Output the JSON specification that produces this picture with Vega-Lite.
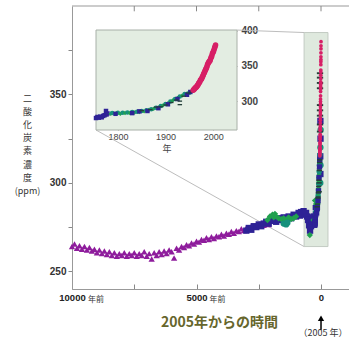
{
  "$schema": "https://vega.github.io/schema/vega-lite/v6.json",
  "width": 277,
  "height": 283,
  "autosize": "none",
  "padding": {"left": 72, "top": 6, "right": 0, "bottom": 50},
  "config": {"view": {"stroke": null}, "font": "Liberation Sans"},
  "datasets": {
    "old": [
      {"bp":10000,"co2":264,"s":"P"},{"bp":9900,"co2":265.5,"s":"P"},{"bp":9800,"co2":263,"s":"P"},{"bp":9700,"co2":264.5,"s":"P"},{"bp":9600,"co2":262.5,"s":"P"},{"bp":9500,"co2":264,"s":"P"},{"bp":9400,"co2":262,"s":"P"},{"bp":9300,"co2":263.5,"s":"P"},{"bp":9200,"co2":261.5,"s":"P"},{"bp":9100,"co2":262.5,"s":"P"},
      {"bp":9000,"co2":260.5,"s":"P"},{"bp":8900,"co2":262,"s":"P"},{"bp":8800,"co2":260,"s":"P"},{"bp":8700,"co2":261.5,"s":"P"},{"bp":8600,"co2":259.5,"s":"P"},{"bp":8500,"co2":261,"s":"P"},{"bp":8400,"co2":259,"s":"P"},{"bp":8300,"co2":260.5,"s":"P"},{"bp":8200,"co2":258.5,"s":"P"},{"bp":8100,"co2":260,"s":"P"},
      {"bp":8000,"co2":259,"s":"P"},{"bp":7900,"co2":260.5,"s":"P"},{"bp":7800,"co2":258.5,"s":"P"},{"bp":7700,"co2":260,"s":"P"},{"bp":7600,"co2":259,"s":"P"},{"bp":7500,"co2":260.5,"s":"P"},{"bp":7400,"co2":258.5,"s":"P"},{"bp":7300,"co2":260,"s":"P"},{"bp":7200,"co2":259,"s":"P"},{"bp":7100,"co2":261,"s":"P"},
      {"bp":7000,"co2":258.5,"s":"P"},{"bp":6900,"co2":260,"s":"P"},{"bp":6800,"co2":257,"s":"P"},{"bp":6700,"co2":260.5,"s":"P"},{"bp":6600,"co2":259,"s":"P"},{"bp":6500,"co2":261,"s":"P"},{"bp":6400,"co2":259.5,"s":"P"},{"bp":6300,"co2":261.5,"s":"P"},{"bp":6200,"co2":260,"s":"P"},{"bp":6100,"co2":262,"s":"P"},
      {"bp":6000,"co2":261,"s":"P"},{"bp":5900,"co2":257.5,"s":"P"},{"bp":5800,"co2":263,"s":"P"},{"bp":5700,"co2":262,"s":"P"},{"bp":5600,"co2":264,"s":"P"},{"bp":5500,"co2":263.5,"s":"P"},{"bp":5400,"co2":265,"s":"P"},{"bp":5300,"co2":264.5,"s":"P"},{"bp":5200,"co2":266,"s":"P"},{"bp":5100,"co2":265.5,"s":"P"},
      {"bp":5000,"co2":267,"s":"P"},{"bp":4900,"co2":266.5,"s":"P"},{"bp":4800,"co2":268,"s":"P"},{"bp":4700,"co2":267.5,"s":"P"},{"bp":4600,"co2":269,"s":"P"},{"bp":4500,"co2":268,"s":"P"},{"bp":4400,"co2":269.5,"s":"P"},{"bp":4300,"co2":268.5,"s":"P"},{"bp":4200,"co2":270,"s":"P"},{"bp":4100,"co2":269.5,"s":"P"},
      {"bp":4000,"co2":271,"s":"P"},{"bp":3900,"co2":270,"s":"P"},{"bp":3800,"co2":271.5,"s":"P"},{"bp":3700,"co2":271,"s":"P"},{"bp":3600,"co2":272.5,"s":"P"},{"bp":3500,"co2":271.5,"s":"P"},{"bp":3400,"co2":273,"s":"P"},{"bp":3300,"co2":272.5,"s":"P"},{"bp":3200,"co2":274,"s":"P"},{"bp":3100,"co2":273,"s":"P"},
      {"bp":3000,"co2":274.5,"s":"P"},{"bp":2900,"co2":274,"s":"P"},{"bp":2800,"co2":275.5,"s":"P"},{"bp":2700,"co2":275,"s":"P"},{"bp":2600,"co2":276,"s":"P"},{"bp":2500,"co2":275.5,"s":"P"},{"bp":2400,"co2":277,"s":"P"},{"bp":2300,"co2":276,"s":"P"},{"bp":2200,"co2":277.5,"s":"P"},{"bp":2100,"co2":276.5,"s":"P"},
      {"bp":3000,"co2":273,"s":"B"},{"bp":2900,"co2":274.5,"s":"B"},{"bp":2800,"co2":273.5,"s":"B"},{"bp":2700,"co2":275.5,"s":"B"},{"bp":2600,"co2":275,"s":"B"},{"bp":2500,"co2":276.5,"s":"B"},{"bp":2400,"co2":275.5,"s":"B"},{"bp":2300,"co2":277,"s":"B"},{"bp":2200,"co2":278,"s":"B"},{"bp":2100,"co2":277,"s":"B"},
      {"bp":2000,"co2":278.5,"s":"B"},{"bp":1900,"co2":279,"s":"B"},{"bp":1800,"co2":278,"s":"B"},{"bp":1700,"co2":280,"s":"B"},{"bp":1600,"co2":279,"s":"B"},{"bp":1500,"co2":280.5,"s":"B"},{"bp":1400,"co2":279.5,"s":"B"},{"bp":1300,"co2":281,"s":"B"},{"bp":1200,"co2":280,"s":"B"},{"bp":1100,"co2":282,"s":"B"},
      {"bp":1000,"co2":281,"s":"B"},{"bp":900,"co2":283,"s":"B"},{"bp":850,"co2":281.5,"s":"B"},{"bp":800,"co2":283.5,"s":"B"},{"bp":750,"co2":282,"s":"B"},{"bp":700,"co2":284,"s":"B"},{"bp":650,"co2":282.5,"s":"B"},{"bp":600,"co2":283,"s":"B"},{"bp":560,"co2":281,"s":"B"},{"bp":520,"co2":279,"s":"B"},
      {"bp":480,"co2":276,"s":"B"},{"bp":440,"co2":273,"s":"B"},{"bp":400,"co2":275.5,"s":"B"},{"bp":360,"co2":278,"s":"B"},{"bp":320,"co2":280.5,"s":"B"},{"bp":290,"co2":281,"s":"B"},{"bp":270,"co2":279,"s":"B"},
      {"bp":2150,"co2":279,"s":"G"},{"bp":2050,"co2":281,"s":"G"},{"bp":1950,"co2":282,"s":"G"},{"bp":1900,"co2":280.5,"s":"G"},{"bp":1850,"co2":282.5,"s":"G"},{"bp":1800,"co2":281,"s":"G"},{"bp":1700,"co2":280,"s":"G"},{"bp":1600,"co2":279.5,"s":"G"},{"bp":1500,"co2":280,"s":"G"},{"bp":1400,"co2":279,"s":"G"},
      {"bp":1300,"co2":280.5,"s":"G"},{"bp":1200,"co2":279.5,"s":"G"},{"bp":1100,"co2":280,"s":"G"},{"bp":1000,"co2":281,"s":"G"},{"bp":450,"co2":270.5,"s":"G"},{"bp":300,"co2":279,"s":"G"},{"bp":240,"co2":290,"s":"G"},{"bp":200,"co2":288,"s":"G"},
      {"bp":1500,"co2":277,"s":"T"},{"bp":1400,"co2":276.5,"s":"T"},{"bp":1350,"co2":277.5,"s":"T"},
      {"bp":30,"co2":300,"s":"T"},{"bp":25,"co2":305,"s":"B"},{"bp":20,"co2":310,"s":"T"},{"bp":30,"co2":315,"s":"B"},{"bp":25,"co2":320,"s":"T"},{"bp":20,"co2":325,"s":"B"},{"bp":15,"co2":330,"s":"T"},{"bp":25,"co2":335,"s":"B"},
      {"bp":40,"co2":362,"s":"K"},{"bp":40,"co2":359.5,"s":"K"},{"bp":40,"co2":356.5,"s":"K"},{"bp":40,"co2":353.5,"s":"K"},{"bp":40,"co2":344,"s":"K"},{"bp":40,"co2":341,"s":"K"},{"bp":40,"co2":338,"s":"K"},{"bp":40,"co2":333,"s":"K"},{"bp":40,"co2":329,"s":"K"}
    ],
    "recent": [
      {"year":1754,"bp":251,"co2":276,"s":"B"},{"year":1757,"bp":248,"co2":277.5,"s":"B"},{"year":1760,"bp":245,"co2":276.5,"s":"B"},{"year":1763,"bp":242,"co2":278,"s":"B"},{"year":1766,"bp":239,"co2":277,"s":"B"},{"year":1769,"bp":236,"co2":279,"s":"B"},{"year":1772,"bp":233,"co2":280,"s":"B"},{"year":1775,"bp":230,"co2":286,"s":"B"},{"year":1776,"bp":229,"co2":281,"s":"B"},{"year":1778,"bp":227,"co2":282.5,"s":"B"},
      {"year":1785,"bp":220,"co2":282,"s":"G"},{"year":1788,"bp":217,"co2":283,"s":"T"},{"year":1796,"bp":209,"co2":282.5,"s":"G"},{"year":1800,"bp":205,"co2":283.5,"s":"T"},{"year":1805,"bp":200,"co2":282,"s":"G"},{"year":1810,"bp":195,"co2":283.5,"s":"T"},{"year":1815,"bp":190,"co2":283,"s":"G"},{"year":1820,"bp":185,"co2":284,"s":"T"},{"year":1825,"bp":180,"co2":283,"s":"G"},{"year":1830,"bp":175,"co2":284.5,"s":"T"},
      {"year":1835,"bp":170,"co2":284,"s":"G"},{"year":1840,"bp":165,"co2":285,"s":"T"},{"year":1845,"bp":160,"co2":284.5,"s":"G"},{"year":1850,"bp":155,"co2":286,"s":"T"},{"year":1855,"bp":150,"co2":285.5,"s":"G"},{"year":1860,"bp":145,"co2":287,"s":"T"},{"year":1865,"bp":140,"co2":287.5,"s":"G"},{"year":1870,"bp":135,"co2":288.5,"s":"T"},{"year":1875,"bp":130,"co2":289,"s":"G"},{"year":1880,"bp":125,"co2":290.5,"s":"T"},
      {"year":1885,"bp":120,"co2":291,"s":"G"},{"year":1890,"bp":115,"co2":293,"s":"T"},{"year":1895,"bp":110,"co2":294,"s":"G"},{"year":1900,"bp":105,"co2":296,"s":"T"},{"year":1905,"bp":100,"co2":297,"s":"G"},{"year":1910,"bp":95,"co2":299.5,"s":"T"},{"year":1915,"bp":90,"co2":301,"s":"G"},{"year":1920,"bp":85,"co2":303,"s":"T"},{"year":1925,"bp":80,"co2":304.5,"s":"G"},{"year":1930,"bp":75,"co2":306.5,"s":"T"},
      {"year":1935,"bp":70,"co2":308,"s":"G"},{"year":1940,"bp":65,"co2":310,"s":"T"},{"year":1945,"bp":60,"co2":311,"s":"G"},{"year":1950,"bp":55,"co2":312,"s":"T"},{"year":1955,"bp":50,"co2":314,"s":"G"},{"year":1960,"bp":45,"co2":316,"s":"T"},
      {"year":1795,"bp":210,"co2":282,"s":"B"},{"year":1830,"bp":175,"co2":283,"s":"B"},{"year":1845,"bp":160,"co2":285.5,"s":"B"},{"year":1862,"bp":143,"co2":286,"s":"B"},{"year":1885,"bp":120,"co2":290,"s":"B"},{"year":1905,"bp":100,"co2":295.5,"s":"B"},{"year":1925,"bp":80,"co2":303,"s":"B"},{"year":1945,"bp":60,"co2":309,"s":"B"},{"year":1952,"bp":53,"co2":313,"s":"B"},
      {"year":1850,"bp":155,"co2":286.5,"s":"K"},{"year":1868,"bp":137,"co2":288,"s":"K"},{"year":1880,"bp":125,"co2":291.5,"s":"K"},{"year":1890,"bp":115,"co2":292,"s":"K"},{"year":1900,"bp":105,"co2":294.5,"s":"K"},{"year":1912,"bp":93,"co2":298,"s":"K"},{"year":1922,"bp":83,"co2":301.5,"s":"K"},{"year":1930,"bp":75,"co2":295,"s":"K"},{"year":1930,"bp":75,"co2":300,"s":"K"},{"year":1938,"bp":67,"co2":307,"s":"K"},{"year":1948,"bp":57,"co2":311.5,"s":"K"},{"year":1955,"bp":50,"co2":313,"s":"K"},
      {"year":1958,"bp":47,"co2":315.3,"s":"M"},{"year":1959,"bp":46,"co2":316,"s":"M"},{"year":1960,"bp":45,"co2":316.9,"s":"M"},{"year":1961,"bp":44,"co2":317.6,"s":"M"},{"year":1962,"bp":43,"co2":318.5,"s":"M"},{"year":1963,"bp":42,"co2":319,"s":"M"},{"year":1964,"bp":41,"co2":319.6,"s":"M"},{"year":1965,"bp":40,"co2":320,"s":"M"},{"year":1966,"bp":39,"co2":321.4,"s":"M"},{"year":1967,"bp":38,"co2":322.2,"s":"M"},
      {"year":1968,"bp":37,"co2":323,"s":"M"},{"year":1969,"bp":36,"co2":324.6,"s":"M"},{"year":1970,"bp":35,"co2":325.7,"s":"M"},{"year":1971,"bp":34,"co2":326.3,"s":"M"},{"year":1972,"bp":33,"co2":327.5,"s":"M"},{"year":1973,"bp":32,"co2":329.7,"s":"M"},{"year":1974,"bp":31,"co2":330.2,"s":"M"},{"year":1975,"bp":30,"co2":331.1,"s":"M"},{"year":1976,"bp":29,"co2":332.1,"s":"M"},{"year":1977,"bp":28,"co2":333.8,"s":"M"},
      {"year":1978,"bp":27,"co2":335.4,"s":"M"},{"year":1979,"bp":26,"co2":336.8,"s":"M"},{"year":1980,"bp":25,"co2":338.7,"s":"M"},{"year":1981,"bp":24,"co2":340.1,"s":"M"},{"year":1982,"bp":23,"co2":341.4,"s":"M"},{"year":1983,"bp":22,"co2":343,"s":"M"},{"year":1984,"bp":21,"co2":344.6,"s":"M"},{"year":1985,"bp":20,"co2":346,"s":"M"},{"year":1986,"bp":19,"co2":347.4,"s":"M"},{"year":1987,"bp":18,"co2":349.2,"s":"M"},
      {"year":1988,"bp":17,"co2":351.6,"s":"M"},{"year":1989,"bp":16,"co2":353.1,"s":"M"},{"year":1990,"bp":15,"co2":354.4,"s":"M"},{"year":1991,"bp":14,"co2":355.6,"s":"M"},{"year":1992,"bp":13,"co2":356.5,"s":"M"},{"year":1993,"bp":12,"co2":357.1,"s":"M"},{"year":1994,"bp":11,"co2":358.9,"s":"M"},{"year":1995,"bp":10,"co2":360.9,"s":"M"},{"year":1996,"bp":9,"co2":362.7,"s":"M"},{"year":1997,"bp":8,"co2":363.8,"s":"M"},
      {"year":1998,"bp":7,"co2":366.8,"s":"M"},{"year":1999,"bp":6,"co2":368.5,"s":"M"},{"year":2000,"bp":5,"co2":369.7,"s":"M"},{"year":2001,"bp":4,"co2":371.3,"s":"M"},{"year":2002,"bp":3,"co2":373.5,"s":"M"},{"year":2003,"bp":2,"co2":375.8,"s":"M"},{"year":2004,"bp":1,"co2":377.5,"s":"M"},{"year":2005,"bp":0,"co2":379.8,"s":"M"}
    ],
    "topticks": [{"bp": 7500}, {"bp": 5000}, {"bp": 2500}, {"bp": 0}]
  },
  "resolve": {"scale": {"x": "independent", "y": "independent"}, "axis": {"x": "independent", "y": "independent"}},
  "layer": [
    {
      "layer": [
        {
          "data": {"values": [{}]},
          "mark": {"type": "rect", "fill": "#dfe9de", "stroke": "#c3cbc3", "strokeWidth": 1},
          "encoding": {
            "x": {"datum": 680, "type": "quantitative", "scale": {"domain": [10000, -1124], "nice": false, "zero": false}},
            "x2": {"datum": -280},
            "y": {"datum": 264, "type": "quantitative", "scale": {"domain": [240, 400], "nice": false, "zero": false}},
            "y2": {"datum": 385}
          }
        },
        {
          "data": {"values": [{}]},
          "mark": {"type": "rule", "stroke": "#bdbdbd", "strokeWidth": 1},
          "encoding": {
            "x": {"datum": 3373, "type": "quantitative", "scale": {"domain": [10000, -1124], "nice": false, "zero": false}},
            "x2": {"datum": 680},
            "y": {"datum": 386.4, "type": "quantitative", "scale": {"domain": [240, 400], "nice": false, "zero": false}},
            "y2": {"datum": 385}
          }
        },
        {
          "data": {"values": [{}]},
          "mark": {"type": "rule", "stroke": "#bdbdbd", "strokeWidth": 1},
          "encoding": {
            "x": {"datum": 9036, "type": "quantitative", "scale": {"domain": [10000, -1124], "nice": false, "zero": false}},
            "x2": {"datum": 680},
            "y": {"datum": 329.9, "type": "quantitative", "scale": {"domain": [240, 400], "nice": false, "zero": false}},
            "y2": {"datum": 264}
          }
        },
        {
          "data": {"values": [{}]},
          "mark": {"type": "rule", "stroke": "#999", "strokeWidth": 1},
          "encoding": {
            "y": {"datum": 400, "type": "quantitative", "scale": {"domain": [240, 400], "nice": false, "zero": false}}
          }
        },
        {
          "data": {"name": "topticks"},
          "mark": {"type": "rule", "stroke": "#888", "strokeWidth": 1},
          "encoding": {
            "x": {"field": "bp", "type": "quantitative", "scale": {"domain": [10000, -1124], "nice": false, "zero": false}},
            "y": {"datum": 400, "type": "quantitative", "scale": {"domain": [240, 400], "nice": false, "zero": false}},
            "y2": {"datum": 397}
          }
        },
        {
          "data": {"name": "old"},
          "mark": {"type": "point", "filled": true, "opacity": 1, "size": 40, "strokeWidth": 0},
          "encoding": {
            "x": {"field": "bp", "type": "quantitative", "scale": {"domain": [10000, -1124], "nice": false, "zero": false},
                  "axis": {"orient": "bottom", "values": [10000, 7500, 5000, 2500, 0], "format": "d", "labelExpr": "datum.value == 7500 || datum.value == 2500 ? '' : datum.label",
                           "tickSize": -5, "tickColor": "#888", "domainColor": "#999", "labelFont": "Liberation Sans", "labelFontWeight": "bold", "labelFontSize": 9.5, "labelColor": "#222", "labelPadding": 8, "labelFlush": false,
                           "grid": false, "title": "2005年からの時間", "titleFont": "Noto Sans CJK JP", "titleFontSize": 14, "titleFontWeight": "bold", "titleColor": "#66662c", "titleX": 147, "titleY": 33, "titleBaseline": "middle"}},
            "y": {"field": "co2", "type": "quantitative", "scale": {"domain": [240, 400], "nice": false, "zero": false},
                  "axis": {"orient": "left", "values": [250, 275, 300, 325, 350, 375], "labelExpr": "datum.value % 50 == 0 ? datum.label : ''", "tickSize": 4, "tickColor": "#888", "domainColor": "#999",
                           "labelFont": "Liberation Sans", "labelFontWeight": "bold", "labelFontSize": 10, "labelColor": "#333", "labelPadding": 2, "grid": false,
                           "title": ["二", "酸", "化", "炭", "素", "濃", "度", "(ppm)"], "titleFont": "Noto Sans CJK JP", "titleFontSize": 9, "titleFontWeight": "normal", "titleColor": "#333",
                           "titleAngle": 0, "titleAlign": "center", "titleBaseline": "top", "titleLineHeight": 13.2, "titleX": -45, "titleY": 88}},
            "color": {"field": "s", "type": "nominal", "scale": {"domain": ["P", "B", "G", "T", "K", "M"], "range": ["#8e1c9c", "#2e2296", "#21a04f", "#16917c", "#243f3a", "#d71f66"]}, "legend": null},
            "shape": {"field": "s", "type": "nominal", "scale": {"domain": ["P", "B", "G", "T", "K", "M"], "range": ["triangle-up", "square", "diamond", "circle", "M-1,-0.3L1,-0.3L1,0.3L-1,0.3Z", "circle"]}, "legend": null}
          }
        },
        {
          "data": {"name": "recent"},
          "mark": {"type": "point", "filled": true, "opacity": 1, "strokeWidth": 0},
          "encoding": {
            "x": {"field": "bp", "type": "quantitative", "scale": {"domain": [10000, -1124], "nice": false, "zero": false}},
            "y": {"field": "co2", "type": "quantitative", "scale": {"domain": [240, 400], "nice": false, "zero": false}},
            "size": {"condition": {"test": "datum.s === 'M'", "value": 14}, "value": 28},
            "color": {"field": "s", "type": "nominal", "legend": null},
            "shape": {"field": "s", "type": "nominal", "legend": null}
          }
        },
        {
          "data": {"values": [{}]},
          "mark": {"type": "text", "font": "Noto Sans CJK JP", "fontSize": 8, "color": "#333", "align": "left", "baseline": "middle", "dx": 16, "clip": false},
          "encoding": {
            "x": {"datum": 10000, "type": "quantitative", "scale": {"domain": [10000, -1124], "nice": false, "zero": false}},
            "y": {"datum": 233.8, "type": "quantitative", "scale": {"domain": [240, 400], "nice": false, "zero": false}},
            "text": {"value": "年前"}
          }
        },
        {
          "data": {"values": [{}]},
          "mark": {"type": "text", "font": "Noto Sans CJK JP", "fontSize": 8, "color": "#333", "align": "left", "baseline": "middle", "dx": 13, "clip": false},
          "encoding": {
            "x": {"datum": 5000, "type": "quantitative", "scale": {"domain": [10000, -1124], "nice": false, "zero": false}},
            "y": {"datum": 233.8, "type": "quantitative", "scale": {"domain": [240, 400], "nice": false, "zero": false}},
            "text": {"value": "年前"}
          }
        },
        {
          "data": {"values": [{}]},
          "mark": {"type": "text", "font": "Noto Sans CJK JP", "fontSize": 9, "color": "#333", "align": "center", "baseline": "middle", "dx": 2, "clip": false},
          "encoding": {
            "x": {"datum": 0, "type": "quantitative", "scale": {"domain": [10000, -1124], "nice": false, "zero": false}},
            "y": {"datum": 215.1, "type": "quantitative", "scale": {"domain": [240, 400], "nice": false, "zero": false}},
            "text": {"value": "（2005 年）"}
          }
        },
        {
          "data": {"values": [{}]},
          "mark": {"type": "rule", "stroke": "#000", "strokeWidth": 1.5, "clip": false},
          "encoding": {
            "x": {"datum": 0, "type": "quantitative", "scale": {"domain": [10000, -1124], "nice": false, "zero": false}},
            "y": {"datum": 217, "type": "quantitative", "scale": {"domain": [240, 400], "nice": false, "zero": false}},
            "y2": {"datum": 223}
          }
        },
        {
          "data": {"values": [{}]},
          "mark": {"type": "point", "shape": "triangle-up", "filled": true, "color": "#000", "opacity": 1, "size": 40, "clip": false},
          "encoding": {
            "x": {"datum": 0, "type": "quantitative", "scale": {"domain": [10000, -1124], "nice": false, "zero": false}},
            "y": {"datum": 223.5, "type": "quantitative", "scale": {"domain": [240, 400], "nice": false, "zero": false}}
          }
        }
      ]
    },
    {
      "layer": [
        {
          "data": {"values": [{}]},
          "mark": {"type": "rect", "fill": "#e3ede2", "stroke": "#a8b0a8", "strokeWidth": 1},
          "encoding": {
            "x": {"datum": 1754, "type": "quantitative", "scale": {"domain": [1754, 2050], "range": [24, 165], "nice": false, "zero": false}},
            "x2": {"datum": 2050},
            "y": {"datum": 259, "type": "quantitative", "scale": {"domain": [259, 401], "range": [124, 24], "nice": false, "zero": false}},
            "y2": {"datum": 401}
          }
        },
        {
          "data": {"name": "recent"},
          "mark": {"type": "point", "filled": true, "opacity": 1, "strokeWidth": 0},
          "encoding": {
            "x": {"field": "year", "type": "quantitative", "scale": {"domain": [1754, 2050], "range": [24, 165], "nice": false, "zero": false},
                  "axis": {"orient": "bottom", "offset": -159, "values": [1800, 1900, 2000], "format": "d", "domain": false, "tickSize": -3, "tickColor": "#999",
                           "labelFontSize": 9, "labelColor": "#444", "labelPadding": 5, "grid": false,
                           "title": "年", "titleFont": "Noto Sans CJK JP", "titleFontSize": 9, "titleFontWeight": "normal", "titleColor": "#444", "titlePadding": 3}},
            "y": {"field": "co2", "type": "quantitative", "scale": {"domain": [259, 401], "range": [124, 24], "nice": false, "zero": false},
                  "axis": {"orient": "right", "offset": -112, "values": [300, 350, 400], "domain": false, "tickSize": -3, "tickColor": "#999",
                           "labelFontSize": 10, "labelFontWeight": "bold", "labelColor": "#444", "labelPadding": 7, "grid": false, "title": null}},
            "size": {"condition": {"test": "datum.s === 'M'", "value": 30}, "value": 20},
            "color": {"field": "s", "type": "nominal", "legend": null},
            "shape": {"field": "s", "type": "nominal", "legend": null}
          }
        }
      ]
    }
  ]
}
